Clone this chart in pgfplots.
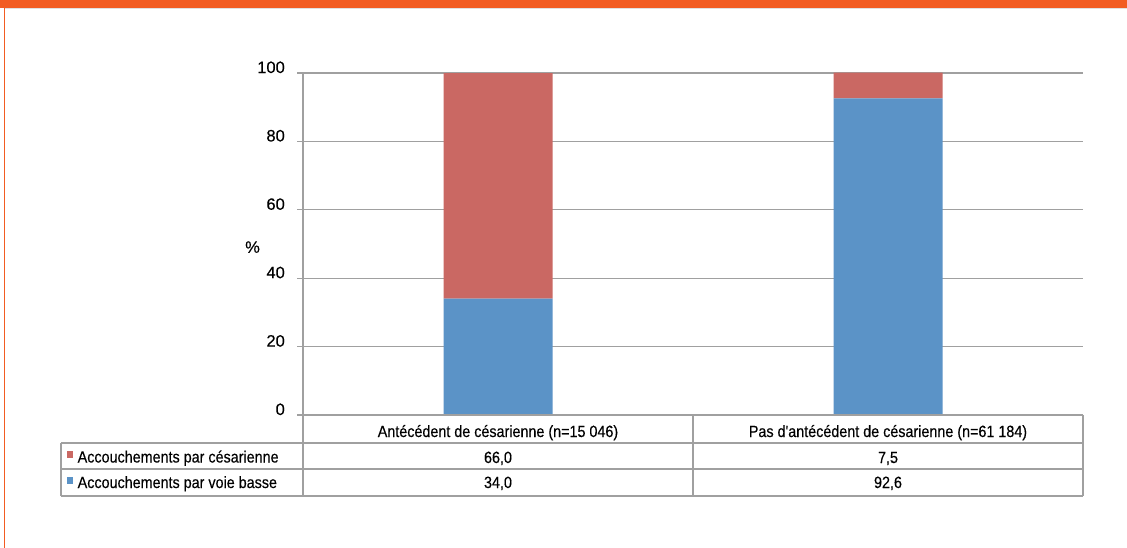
\documentclass[border=0pt]{standalone}
\usepackage{pgfplots}
\pgfplotsset{compat=1.18}
\usepackage{fontspec}
\setmainfont{Liberation Sans}[FakeBold=0.25]
\newfontfamily\narrow[FakeStretch=0.88,FakeBold=0.3]{Liberation Sans}
\definecolor{hdr}{RGB}{242,92,34}
\definecolor{cred}{RGB}{202,104,99}
\definecolor{cblue}{RGB}{91,147,199}
\definecolor{lgray}{RGB}{160,160,160}
\begin{document}
\fontsize{16bp}{19bp}\selectfont
\begin{tikzpicture}
\useasboundingbox (0,0) rectangle (1127bp,-548bp);
\fill[white] (0,0) rectangle (1127bp,-548bp);
\fill[hdr] (0,0) rectangle (1127bp,-8bp);
\draw[black!12, line width=1bp] (5bp,-8.6bp) -- (1127bp,-8.6bp);
\draw[hdr, line width=1.3bp] (4.6bp,-8bp) -- (4.6bp,-548bp);
\begin{axis}[
  at={(303bp,-415bp)}, anchor=south west,
  scale only axis, width=780bp, height=342bp,
  xmin=-0.5, xmax=1.5, ymin=0, ymax=100,
  ybar stacked, bar width=109bp,
  axis lines=left,
  axis line style={-, draw=lgray, line width=1.3bp},
  xtick=\empty,
  ytick={0,20,40,60,80,100},
  ymajorgrids, grid style={lgray, line width=1.2bp},
  tick align=outside, major tick length=6bp,
  tick style={lgray, line width=1.2bp},
  /pgf/number format/assume math mode=true,
  yticklabel style={anchor=base east, inner sep=0pt, xshift=-12bp, font=\fontsize{16.5bp}{19bp}\selectfont},
  ylabel={\%},
  ylabel style={rotate=-90, anchor=center, at={(rel axis cs:-0.0647,0.491)}, font=\fontsize{16.5bp}{19bp}\selectfont},
  clip=false,
]
\addplot[fill=cblue, draw=none] coordinates {(0,34.0) (1,92.6)};
\addplot[fill=cred, draw=none] coordinates {(0,66.0) (1,7.5)};
\end{axis}
% data table
\begin{scope}[lgray, line width=1.3bp]
\draw (303bp,-415bp) -- (1083bp,-415bp);
\draw (61bp,-443bp) -- (1083bp,-443bp);
\draw (61bp,-469bp) -- (1083bp,-469bp);
\draw (61bp,-496bp) -- (1083bp,-496bp);
\draw (61bp,-443bp) -- (61bp,-496bp);
\draw (303bp,-415bp) -- (303bp,-496bp);
\draw (693bp,-415bp) -- (693bp,-496bp);
\draw (1083bp,-415bp) -- (1083bp,-496bp);
\end{scope}
\begin{scope}[every node/.style={inner sep=0pt, font=\narrow\fontsize{16.3bp}{18bp}\selectfont}]
\node[anchor=base] at (498bp,-437bp) {Antécédent de césarienne (n=15 046)};
\node[anchor=base] at (888bp,-437bp) {Pas d'antécédent de césarienne (n=61 184)};
\node[anchor=base] at (498bp,-463bp) {66,0};
\node[anchor=base] at (888bp,-463bp) {7,5};
\node[anchor=base] at (498bp,-488bp) {34,0};
\node[anchor=base] at (888bp,-488bp) {92,6};
\node[anchor=base west] at (77.5bp,-462.5bp) {Accouchements par césarienne};
\node[anchor=base west] at (77.5bp,-488bp) {Accouchements par voie basse};
\end{scope}
\fill[cred] (66.5bp,-450.7bp) rectangle (73.3bp,-458bp);
\fill[cblue] (66.5bp,-477.3bp) rectangle (73.3bp,-484.3bp);
\end{tikzpicture}
\end{document}
